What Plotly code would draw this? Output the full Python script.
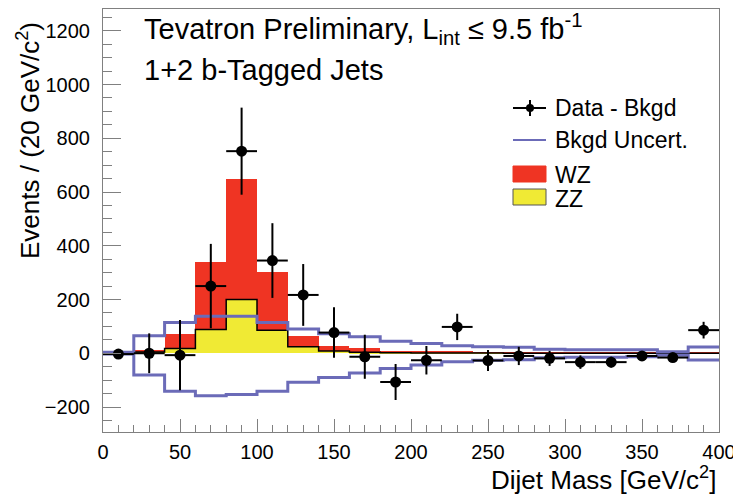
import plotly.graph_objects as go

# ---------------- data ----------------
bin_edges = [0, 20, 40, 60, 80, 100, 120, 140, 160, 180, 200, 220, 240, 260, 280, 300, 320, 340, 360, 380, 400]
bin_centers = [10, 30, 50, 70, 90, 110, 130, 150, 170, 190, 210, 230, 250, 270, 290, 310, 330, 350, 370, 390]

zz = [1, 5, 18, 88, 200, 86, 24, 8, 4, 2, 1, 1, 1, 0, 0, 0, 0, 0, 0, 0]
wz = [1, 9, 55, 252, 448, 216, 39, 20, 14, 7, 5, 4, 3, 3, 2, 2, 2, 2, 2, 2]

data_minus_bkg = [-3, 0, -7, 250, 752, 345, 217, 77, -13, -107, -26, 98, -27, -10, -19, -33, -33, -10, -16, 86]
data_err = [8, 74, 131, 157, 162, 139, 115, 94, 82, 67, 53, 49, 39, 34, 28, 25, 20, 15, 12, 31]

bkg_up = [4, 65, 114, 138, 138, 114, 90, 73, 61, 45, 36, 28, 24, 22, 15, 13, 13, 13, 6, 23]
bkg_dn = [-3, -81, -141, -158, -153, -141, -108, -90, -73, -57, -44, -32, -26, -24, -17, -15, -15, -13, -7, -25]

RED = "#ef3423"
YEL = "#f0ea34"
BLUE = "#6b6bb8"
FONT = "Liberation Sans, Arial, Helvetica, sans-serif"

def steps(vals):
    return vals + [vals[-1]]

fig = go.Figure()

# stacked histograms
fig.add_trace(go.Bar(x=bin_centers, y=zz, width=20, marker=dict(color=YEL, line=dict(width=0)),
                     name="ZZ", showlegend=False))
fig.add_trace(go.Bar(x=bin_centers, y=wz, width=20, marker=dict(color=RED, line=dict(width=0)),
                     name="WZ", showlegend=False))
# ZZ outline
fig.add_trace(go.Scatter(x=bin_edges, y=steps(zz), mode="lines", line=dict(color="black", width=1.5, shape="hv"),
                         showlegend=False, hoverinfo="skip"))
# background uncertainty band edges
fig.add_trace(go.Scatter(x=bin_edges, y=steps(bkg_up), mode="lines", line=dict(color=BLUE, width=3, shape="hv"),
                         showlegend=False))
fig.add_trace(go.Scatter(x=bin_edges, y=steps(bkg_dn), mode="lines", line=dict(color=BLUE, width=3, shape="hv"),
                         showlegend=False))
# data - background
fig.add_trace(go.Scatter(x=bin_centers, y=data_minus_bkg, mode="markers",
                         marker=dict(color="black", size=11),
                         error_y=dict(type="data", array=data_err, color="black", thickness=2, width=0),
                         error_x=dict(type="constant", value=10, color="black", thickness=2, width=0),
                         showlegend=False))

AX = "#808080"
# page has an 8px body margin: the figure is shrunk so the plot frame lands where the reference has it
fig.update_layout(
    width=733, height=489,
    margin=dict(l=95, r=22, t=1, b=65),
    paper_bgcolor="white", plot_bgcolor="white",
    barmode="stack", bargap=0,
    showlegend=False,
    font=dict(family=FONT, color="black"),
    xaxis=dict(range=[0, 400], showgrid=False, zeroline=False, showline=True, linecolor=AX, linewidth=1.2,
               mirror=True, ticks="inside", ticklen=13, tickcolor=AX, tickwidth=1.2, dtick=50, tick0=0,
               tickfont=dict(size=20, family=FONT), ticklabelstandoff=2,
               minor=dict(ticks="inside", ticklen=7, dtick=10, tickcolor=AX, tickwidth=1.2)),
    yaxis=dict(range=[-293, 1281], showgrid=False, zeroline=False, showline=True, linecolor=AX, linewidth=1.2,
               mirror=True, ticks="inside", ticklen=18, tickcolor=AX, tickwidth=1.2, dtick=200, tick0=0,
               tickfont=dict(size=20, family=FONT), ticklabelstandoff=8,
               minor=dict(ticks="inside", ticklen=9, dtick=50, tickcolor=AX, tickwidth=1.2)),
)

def px2x(px):
    return (px - 103) / 616.0

def py2y(py):
    return (432 - py) / 423.0

ann = []
ann.append(dict(text="Tevatron Preliminary, L<sub>int</sub> ≤ 9.5 fb<sup>-1</sup>", x=px2x(142), y=py2y(29),
                xanchor="left", yanchor="middle", font=dict(size=29)))
ann.append(dict(text="1+2 b-Tagged Jets", x=px2x(142), y=py2y(70),
                xanchor="left", yanchor="middle", font=dict(size=29)))
ann.append(dict(text="Events / (20 GeV/c<sup>2</sup>)", x=px2x(28), y=py2y(141), textangle=-90,
                xanchor="center", yanchor="middle", font=dict(size=26)))
ann.append(dict(text="Dijet Mass [GeV/c<sup>2</sup>]", x=px2x(718), y=py2y(478),
                xanchor="right", yanchor="middle", font=dict(size=26)))

# legend (drawn manually)
leg_rows = [("Data - Bkgd", 108), ("Bkgd Uncert.", 140), ("WZ", 175), ("ZZ", 199)]
for txt, py in leg_rows:
    ann.append(dict(text=txt, x=px2x(553), y=py2y(py), xanchor="left", yanchor="middle", font=dict(size=23)))
for a in ann:
    a.update(xref="paper", yref="paper", showarrow=False)
fig.update_layout(annotations=ann)

shapes = []
# Data legend symbol
shapes.append(dict(type="line", x0=px2x(513), x1=px2x(546), y0=py2y(108), y1=py2y(108), line=dict(color="black", width=2)))
shapes.append(dict(type="line", x0=px2x(530), x1=px2x(530), y0=py2y(100), y1=py2y(116), line=dict(color="black", width=2)))
shapes.append(dict(type="circle", x0=px2x(526), x1=px2x(534), y0=py2y(104), y1=py2y(112), fillcolor="black", line=dict(color="black", width=0)))
# Bkgd uncertainty legend line
shapes.append(dict(type="line", x0=px2x(513), x1=px2x(546), y0=py2y(140), y1=py2y(140), line=dict(color=BLUE, width=2)))
# WZ box
shapes.append(dict(type="rect", x0=px2x(513), x1=px2x(546), y0=py2y(182), y1=py2y(166), fillcolor=RED, line=dict(color=RED, width=1)))
# ZZ box
shapes.append(dict(type="rect", x0=px2x(513), x1=px2x(546), y0=py2y(205), y1=py2y(189), fillcolor=YEL, line=dict(color="#555555", width=1)))
for s in shapes:
    s.update(xref="paper", yref="paper")
fig.update_layout(shapes=shapes)

fig.write_html("out.html")
